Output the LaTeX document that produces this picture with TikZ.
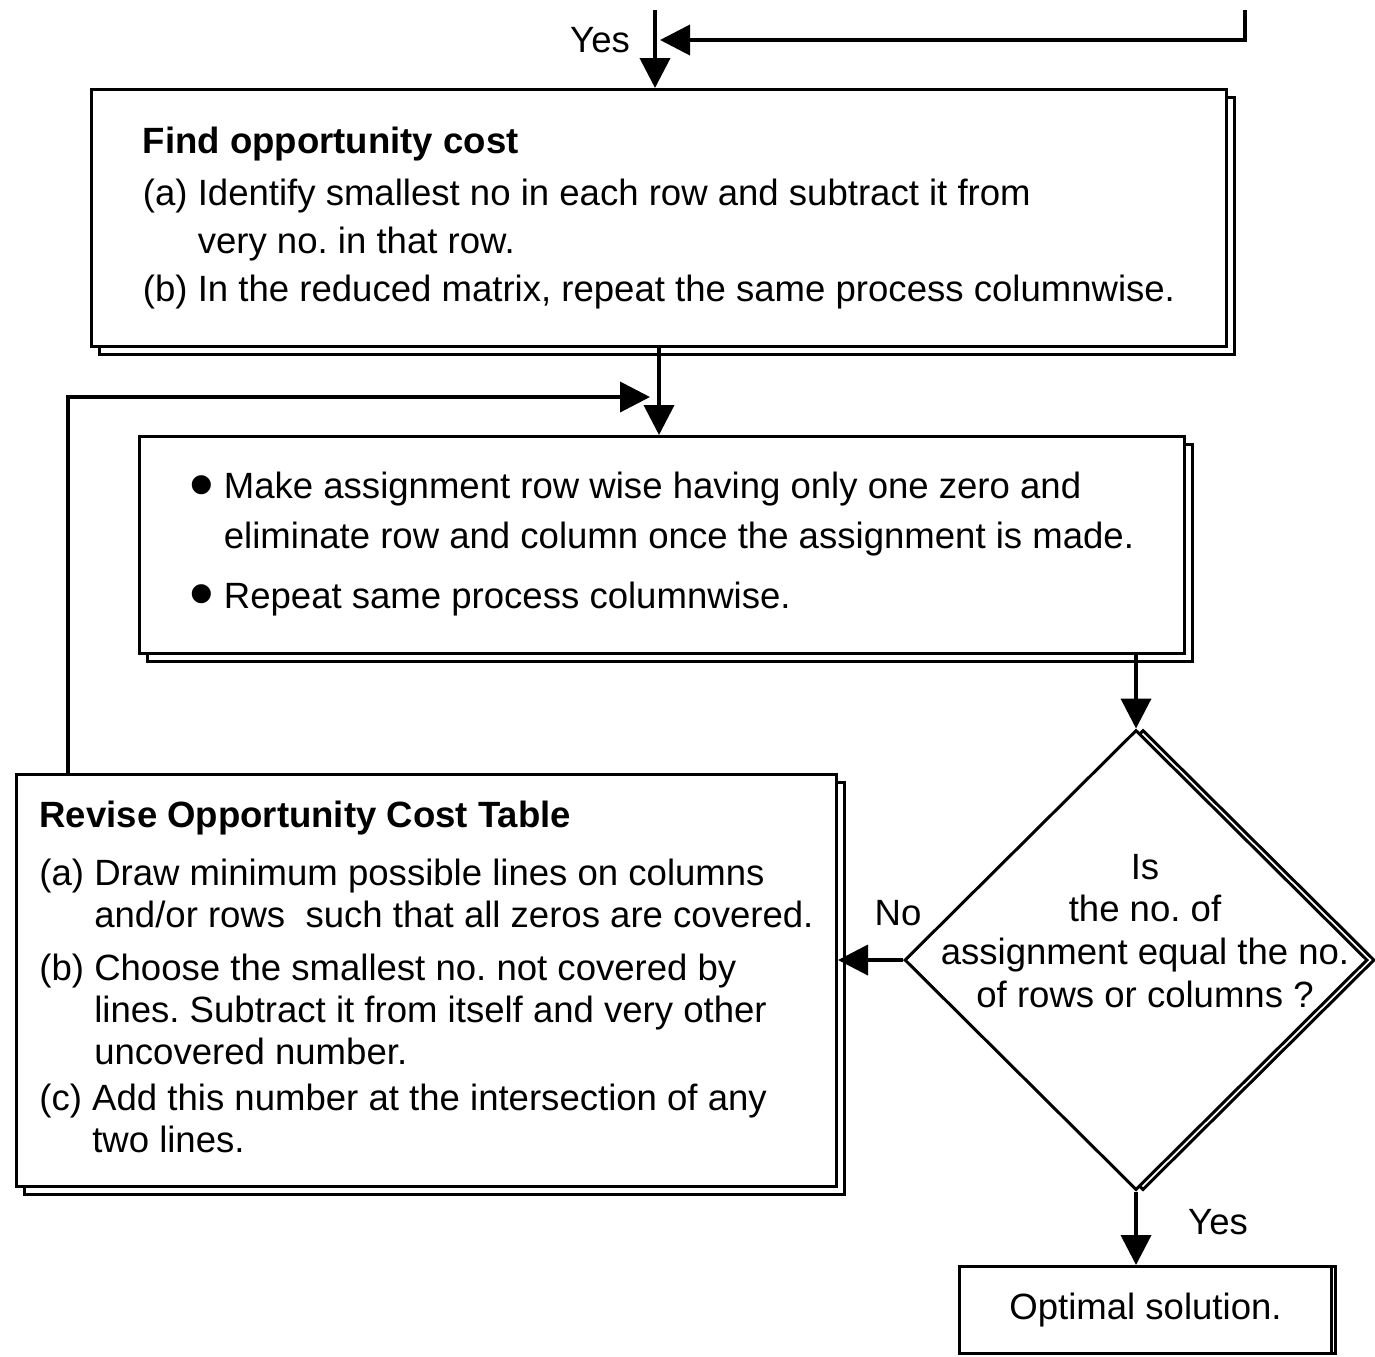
\documentclass[tikz,border=0pt]{standalone}
\usepackage{fontspec}
\setmainfont{Liberation Sans}
\usepackage{tikz}
\usetikzlibrary{calc, positioning}
\usetikzlibrary{shapes.geometric, arrows.meta, shadows}
\frenchspacing

\newcommand{\blt}{\makebox[0.34cm][l]{\raisebox{-2.7pt}{\fontsize{20}{12}\selectfont\textbullet}}}

\tikzset{
  flowbox/.style={draw, line width=0.85pt, fill=white, align=left, inner sep=0pt},
  stackbox/.style={flowbox, copy shadow={shadow xshift=0.08cm, shadow yshift=-0.08cm, draw=black, fill=white, line width=0.85pt}},
  decision/.style={draw, diamond, aspect=1, line width=0.85pt, fill=white, minimum width=4.63cm, minimum height=4.6cm, inner sep=0pt},
  flowline/.style={line width=1.1pt, -{Triangle[length=0.3cm, width=0.3cm]}},
}

\begin{document}
\begin{tikzpicture}[font=\fontsize{10.4}{12.5}\selectfont]
  \useasboundingbox (0,0) rectangle (13.75,-13.56);

  \node[stackbox, minimum width=11.35cm, minimum height=2.57cm, anchor=north west, font=\fontsize{10.4}{13.7}\selectfont] (cost) at (0.90,-0.88)
    {\textbf{Find opportunity cost}\\[1pt]
     (a) Identify smallest no in each row and subtract it from\\
     \phantom{(a) }very no. in that row.\\
     (b) In the reduced matrix, repeat the same process columnwise.};

  \node[stackbox, minimum width=10.45cm, minimum height=2.17cm, anchor=north west, font=\fontsize{10.4}{14.2}\selectfont] (assign) at (1.38,-4.35)
    {\blt Make assignment row wise having only one zero and\\
     \hspace*{0.34cm}eliminate row and column once the assignment is made.\\[2.8pt]
     \blt Repeat same process columnwise.};

  \node[stackbox, minimum width=8.20cm, minimum height=4.12cm, anchor=north west, font=\fontsize{10.4}{12}\selectfont] (revise) at (0.15,-7.73)
    {\textbf{Revise Opportunity Cost Table}\\[4.5pt]
     (a) Draw minimum possible lines on columns\\
     \phantom{(a) }and/or rows~ such that all zeros are covered.\\[3pt]
     (b) Choose the smallest no. not covered by\\
     \phantom{(b) }lines. Subtract it from itself and very other\\
     \phantom{(b) }uncovered number.\\[1pt]
     (c) Add this number at the intersection of any\\
     \phantom{(c) }two lines.};

  \node[decision, copy shadow={shadow xshift=0.07cm, shadow yshift=0cm, draw=black, fill=white, line width=0.85pt}] (check) at (11.36,-9.60) {};
  \node[align=center, font=\fontsize{10.4}{12.2}\selectfont] (question) at (11.45,-9.31)
    {Is\\the no. of\\assignment equal the no.\\of rows or columns ?};

  \node[flowbox, minimum width=3.72cm, minimum height=0.87cm, anchor=north west, copy shadow={shadow xshift=0.04cm, shadow yshift=0cm, draw=black, fill=white, line width=0.85pt}] (optimal) at (9.58,-12.65) {Optimal solution.};

  \coordinate (entry) at (6.55,-0.10);
  \coordinate (side) at (12.45,-0.10);
  \coordinate (join) at (6.60,-0.40);
  \coordinate (back) at (6.50,-3.97);

  \draw[flowline] (entry) -- (entry |- cost.north);
  \draw[flowline] (side) |- (join);
  \draw[flowline] (cost.south) -- (cost.south |- assign.north);
  \draw[flowline] ([xshift=0.53cm]revise.north west) |- (back);
  \draw[flowline] (assign.south -| check.north) -- (check.north);
  \draw[flowline] (check.west) -- (check.west -| revise.east);
  \draw[flowline] (check.south) -- (check.south |- optimal.north);

  \node (yestop) at (6.00,-0.40) {Yes};
  \node (no) at (8.98,-9.13) {No};
  \node (yesbot) at (12.18,-12.22) {Yes};
\end{tikzpicture}
\end{document}
